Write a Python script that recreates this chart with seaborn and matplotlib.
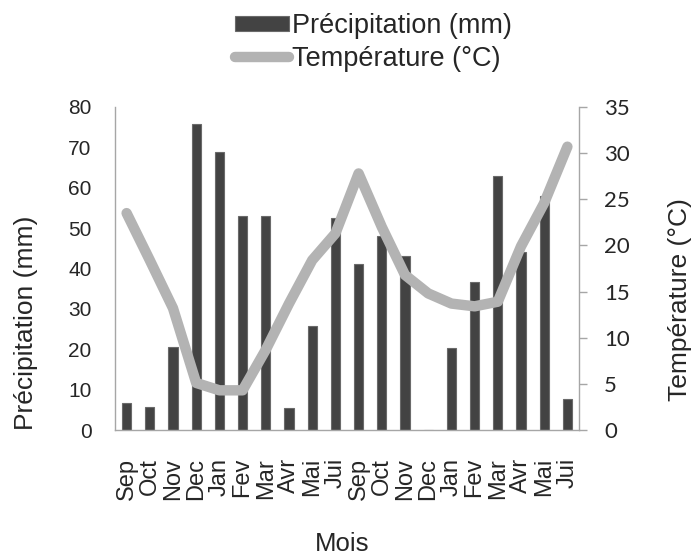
import matplotlib
matplotlib.use("Agg")
import matplotlib.pyplot as plt
import seaborn as sns
import pandas as pd
import numpy as np

months = ["Sep", "Oct", "Nov", "Dec", "Jan", "Fev", "Mar", "Avr", "Mai", "Jui",
          "Sep", "Oct", "Nov", "Dec", "Jan", "Fev", "Mar", "Avr", "Mai", "Jui"]
precip = [6.6, 5.6, 20.6, 75.7, 68.9, 53, 53, 5.4, 25.7, 52.4,
          41, 48, 43.1, 0, 20.4, 36.7, 62.9, 44, 57.9, 7.6]
temp = [23.5, 18.4, 13.2, 5.1, 4.3, 4.3, 8.7, 13.7, 18.4, 21.3,
        27.8, 22.0, 16.8, 14.8, 13.7, 13.4, 13.9, 19.9, 24.6, 30.7]
precip_ticks = list(range(0, 81, 10))
temp_ticks = list(range(0, 36, 5))

df = pd.DataFrame({"idx": np.arange(len(months)), "mois": months,
                   "precip": precip, "temp": temp})

sns.set_theme(style="white")
plt.rcParams["font.family"] = ["Liberation Sans", "DejaVu Sans"]

W, H = 696, 556
L, R, T, B = 115, 579, 107, 430
fig = plt.figure(figsize=(W / 100, H / 100), dpi=100)
ax = fig.add_axes([L / W, 1 - B / H, (R - L) / W, (B - T) / H])

def ax_x(px):
    return (px - L) / (R - L)

def ax_y(py):
    return (B - py) / (B - T)

sns.barplot(data=df, x="idx", y="precip", ax=ax, color="#434343",
            width=0.4, saturation=1, edgecolor="#6a6a6a", linewidth=0.8,
            label="Précipitation (mm)")
if ax.get_legend() is not None:
    ax.get_legend().remove()
ax.set_xlim(-0.5, len(months) - 0.5)
ax.set_ylim(0, 80)
ax.set_yticks(precip_ticks)
ax.set_xticks(np.arange(len(months)))
ax.set_xticklabels(months, rotation=90, fontsize=17)
ax.tick_params(axis="y", labelsize=15, length=0, pad=17)
ax.tick_params(axis="x", length=0, pad=20)
ax.set_ylabel("Précipitation (mm)", fontsize=19)
ax.yaxis.set_label_coords(ax_x(38), ax_y(323))
ax.set_xlabel("Mois", fontsize=18.5)
ax.xaxis.set_label_coords(ax_x(342), ax_y(532))
for s in ["top", "right"]:
    ax.spines[s].set_visible(False)
for s in ["left", "bottom"]:
    ax.spines[s].set_color("#a6a6a6")
    ax.spines[s].set_linewidth(1.0)

ax2 = ax.twinx()
sns.lineplot(data=df, x="idx", y="temp", ax=ax2, color="#b3b3b3",
             linewidth=7.5, label="Température (°C)", legend=False)
ax2.lines[0].set_solid_joinstyle("round")
ax2.lines[0].set_solid_capstyle("round")
ax2.set_ylim(0, 35)
ax2.set_yticks(temp_ticks, labels=[str(t) for t in temp_ticks],
               fontfamily="Lato", fontsize=16)
ax2.set_xlim(-0.5, len(months) - 0.5)
ax2.tick_params(axis="y", length=6, width=1, color="#a6a6a6",
                direction="out", pad=12, right=True)
ax2.set_ylabel("Température (°C)", fontsize=19)
ax2.yaxis.set_label_coords(ax_x(668), ax_y(300))
for s in ["top", "left", "bottom"]:
    ax2.spines[s].set_visible(False)
ax2.spines["right"].set_color("#a6a6a6")
ax2.spines["right"].set_linewidth(1.0)

h1, l1 = ax.get_legend_handles_labels()
h2, l2 = ax2.get_legend_handles_labels()
leg = fig.legend(h1 + h2, l1 + l2, loc="upper center",
                 bbox_to_anchor=(373 / W, 1.02),
                 frameon=False, fontsize=19.5, handlelength=2.0,
                 handletextpad=0.1, labelspacing=0.25, handleheight=0.5)

fig.savefig("out.png", dpi=100)
